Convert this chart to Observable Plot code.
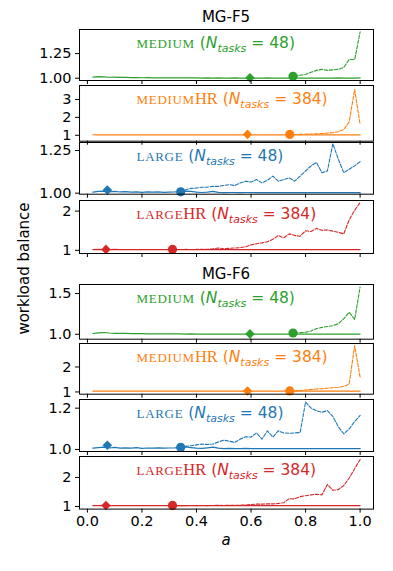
<!DOCTYPE html>
<html>
<head>
<meta charset="utf-8">
<script src="https://cdn.jsdelivr.net/npm/d3@7"></script>
<script src="https://cdn.jsdelivr.net/npm/@observablehq/plot@0.6"></script>
<style>
  body { margin: 0; background: #fff; }
  #fig { position: relative; width: 393px; height: 571px; overflow: hidden; font-family: "DejaVu Sans", sans-serif; color: #000; }
  .ttl { position: absolute; left: 79px; width: 294px; text-align: center; font-size: 15px; line-height: 15px; white-space: nowrap; }
  .ylab { position: absolute; width: 200px; height: 15px; font-size: 15px; line-height: 15px; text-align: center; transform: rotate(-90deg); white-space: nowrap; }
  .panel { position: absolute; left: 0; }
</style>
</head>
<body>
<div id="fig"></div>
<script>
// ---------- data ----------
const a = [0.02,0.04,0.06,0.08,0.10,0.12,0.14,0.16,0.18,0.20,0.22,0.24,0.26,0.28,0.30,0.32,0.34,0.36,0.38,0.40,0.42,0.44,0.46,0.48,0.50,0.52,0.54,0.56,0.58,0.60,0.62,0.64,0.66,0.68,0.70,0.72,0.74,0.76,0.78,0.80,0.82,0.84,0.86,0.88,0.90,0.92,0.94,0.96,0.98,1.00];
const xTicks = [0, 0.2, 0.4, 0.6, 0.8, 1.0];
const groups = ["MG-F5", "MG-F6"];

// MG-F5
const f5MediumSolid = [1.012,1.016,1.014,1.010,1.012,1.008,1.009,1.006,1.007,1.005,1.006,1.004,1.005,1.004,1.004,1.003,1.004,1.003,1.003,1.003,1.002,1.003,1.002,1.003,1.002,1.002,1.003,1.002,1.002,1.002,1.002,1.002,1.003,1.002,1.002,1.002,1.002,1.002,1.002,1.002,1.002,1.002,1.002,1.002,1.002,1.003,1.002,1.002,1.002,1.003];
const f5MediumDashed = [1.02,1.03,1.04,1.06,1.08,1.09,1.08,1.085,1.09,1.11,1.19,1.19,1.47];
const f5MediumHRSolid = [1.03,1.02,1.03,1.02,1.02,1.02,1.02,1.02,1.02,1.02,1.02,1.02,1.02,1.02,1.02,1.02,1.02,1.02,1.02,1.02,1.02,1.02,1.02,1.02,1.02,1.02,1.02,1.02,1.02,1.02,1.02,1.02,1.02,1.02,1.02,1.02,1.02,1.02,1.02,1.02,1.02,1.02,1.02,1.02,1.02,1.02,1.02,1.02,1.02,1.02];
const f5MediumHRDashed = [1.03,1.04,1.05,1.06,1.07,1.08,1.10,1.12,1.15,1.20,1.32,1.75,3.55,1.60];
const f5LargeSolid = [1.006,1.010,1.012,1.008,1.011,1.007,1.009,1.006,1.008,1.005,1.007,1.006,1.008,1.005,1.006,1.007,1.009,1.012,1.010,1.006,1.004,1.006,1.010,1.005,1.003,1.004,1.004,1.003,1.004,1.004,1.003,1.003,1.004,1.003,1.003,1.003,1.003,1.004,1.003,1.003,1.003,1.004,1.003,1.003,1.003,1.003,1.003,1.003,1.003,1.003];
const f5LargeDashed = [1.008,1.020,1.028,1.030,1.035,1.035,1.040,1.040,1.045,1.050,1.045,1.060,1.070,1.065,1.080,1.060,1.075,1.100,1.070,1.080,1.090,1.070,1.100,1.130,1.160,1.180,1.120,1.130,1.290,1.200,1.120,1.140,1.160,1.185];
const f5LargeHRSolid = [1.02,1.025,1.02,1.02,1.025,1.02,1.02,1.02,1.02,1.02,1.02,1.02,1.02,1.02,1.02,1.02,1.02,1.02,1.02,1.02,1.02,1.02,1.02,1.02,1.02,1.02,1.02,1.02,1.02,1.02,1.02,1.02,1.02,1.02,1.02,1.02,1.02,1.02,1.02,1.02,1.02,1.02,1.02,1.02,1.02,1.02,1.02,1.02,1.02,1.02];
const f5LargeHRDashed = [1.02,1.02,1.025,1.02,1.025,1.03,1.025,1.04,1.06,1.04,1.05,1.06,1.07,1.09,1.14,1.17,1.19,1.22,1.28,1.38,1.32,1.42,1.38,1.36,1.50,1.48,1.56,1.51,1.52,1.49,1.46,1.42,1.78,2.02,2.22];

// MG-F6
const f6MediumSolid = [1.010,1.018,1.022,1.016,1.012,1.011,1.010,1.009,1.008,1.007,1.006,1.006,1.005,1.005,1.004,1.004,1.004,1.003,1.004,1.003,1.003,1.003,1.003,1.003,1.003,1.003,1.003,1.003,1.003,1.003,1.003,1.003,1.003,1.003,1.003,1.003,1.003,1.003,1.003,1.003,1.003,1.003,1.003,1.003,1.003,1.003,1.003,1.003,1.003,1.003];
const f6MediumDashed = [1.016,1.02,1.025,1.04,1.07,1.085,1.095,1.105,1.13,1.19,1.27,1.18,1.58];
const f6MediumHRSolid = [1.03,1.03,1.03,1.03,1.03,1.03,1.03,1.03,1.03,1.03,1.03,1.03,1.03,1.03,1.03,1.03,1.03,1.03,1.03,1.03,1.03,1.03,1.03,1.03,1.03,1.03,1.03,1.03,1.03,1.03,1.03,1.03,1.03,1.03,1.03,1.03,1.03,1.03,1.03,1.03,1.03,1.03,1.03,1.03,1.03,1.03,1.03,1.03,1.03,1.03];
const f6MediumHRDashed = [1.03,1.04,1.06,1.08,1.10,1.12,1.13,1.15,1.17,1.19,1.22,1.32,2.85,1.60];
const f6LargeSolid = [1.006,1.009,1.011,1.007,1.010,1.006,1.008,1.006,1.009,1.005,1.007,1.006,1.008,1.006,1.007,1.008,1.010,1.012,1.009,1.006,1.005,1.008,1.011,1.006,1.004,1.005,1.004,1.004,1.005,1.004,1.004,1.004,1.004,1.004,1.004,1.004,1.004,1.004,1.004,1.004,1.004,1.004,1.004,1.004,1.004,1.004,1.004,1.004,1.004,1.004];
const f6LargeDashed = [1.010,1.015,1.018,1.022,1.026,1.024,1.026,1.036,1.045,1.040,1.034,1.050,1.061,1.060,1.080,1.050,1.090,1.060,1.090,1.080,1.078,1.080,1.082,1.230,1.200,1.188,1.180,1.188,1.160,1.110,1.076,1.100,1.135,1.165];
const f6LargeHRSolid = [1.03,1.03,1.035,1.03,1.03,1.03,1.03,1.03,1.03,1.03,1.03,1.03,1.03,1.03,1.03,1.03,1.03,1.03,1.03,1.03,1.03,1.03,1.03,1.03,1.03,1.03,1.03,1.03,1.03,1.03,1.03,1.03,1.03,1.03,1.03,1.03,1.03,1.03,1.03,1.03,1.03,1.03,1.03,1.03,1.03,1.03,1.03,1.03,1.03,1.03];
const f6LargeHRDashed = [1.03,1.03,1.03,1.035,1.03,1.035,1.03,1.035,1.04,1.035,1.04,1.04,1.045,1.05,1.07,1.08,1.08,1.09,1.09,1.10,1.13,1.27,1.26,1.34,1.37,1.40,1.42,1.40,1.76,1.56,1.58,1.72,1.98,2.30,2.62];

// marker points (diamond and circle)
const diamondA = [0.596, 0.587, 0.073, 0.068, 0.596, 0.587, 0.073, 0.068];
const diamondY = [1.004, 1.05, 1.018, 1.025, 1.005, 1.04, 1.02, 1.035];
const circleA  = [0.754, 0.742, 0.342, 0.312, 0.754, 0.742, 0.342, 0.312];
const circleY  = [1.02, 1.05, 1.008, 1.025, 1.016, 1.04, 1.01, 1.035];

const configNames = ["medium", "medium", "large", "large", "medium", "medium", "large", "large"];
const configHR    = [false, true, false, true, false, true, false, true];
const nTasks      = [48, 384, 48, 384, 48, 384, 48, 384];
const solids  = [f5MediumSolid, f5MediumHRSolid, f5LargeSolid, f5LargeHRSolid, f6MediumSolid, f6MediumHRSolid, f6LargeSolid, f6LargeHRSolid];
const dasheds = [f5MediumDashed, f5MediumHRDashed, f5LargeDashed, f5LargeHRDashed, f6MediumDashed, f6MediumHRDashed, f6LargeDashed, f6LargeHRDashed];
const yDomains = [[0.977,1.494],[0.67,3.78],[0.994,1.297],[0.92,2.27],[0.94,1.61],[0.91,2.94],[0.99,1.242],[0.91,2.72]];
const yTicks = [[1.00,1.25],[1,2,3],[1.00,1.25],[1,2],[1.0,1.5],[1,2],[1.0,1.2],[1,2]];
const yFormats = [".2f","d",".2f","d",".1f","d",".1f","d"];

// ---------- styling / layout ----------
const palette = {medium: "#2ca02c", mediumHR: "#ff7f0e", large: "#1f77b4", largeHR: "#d62728"};
const frames = [[28.5,79.5],[85.3,141],[142.3,194],[199.7,252.7],[284.3,339],[343.3,394],[399,451],[455.7,508.3]];
const titleTops = [10, 267.3];
const tickFont = 14.5;

const fig = document.getElementById("fig");
const NS = "http://www.w3.org/2000/svg";

groups.forEach((g, i) => {
  const d = document.createElement("div");
  d.className = "ttl";
  d.style.top = titleTops[i] + "px";
  d.textContent = g;
  fig.appendChild(d);
});

solids.forEach((solid, i) => {
  const [top, bottom] = frames[i];
  const last = i === solids.length - 1;
  const mt = 2, mb = last ? 24 : 6;
  const key = configNames[i] + (configHR[i] ? "HR" : "");
  const color = palette[key];
  const dashed = dasheds[i];
  const dashedA = a.slice(a.length - dashed.length);
  const solidData = a.map((x, k) => ({a: x, y: solid[k]}));
  const dashedData = dashedA.map((x, k) => ({a: x, y: dashed[k]}));
  const diamond = [{a: diamondA[i], y: diamondY[i]}];
  const circle = [{a: circleA[i], y: circleY[i]}];
  const placeholder = "LBL" + i;

  const chart = Plot.plot({
    width: 393,
    height: bottom - top + mt + mb,
    marginLeft: 79, marginRight: 20, marginTop: mt, marginBottom: mb,
    style: {background: "transparent", overflow: "visible", fontFamily: "DejaVu Sans, sans-serif", fontSize: tickFont + "px", color: "#000"},
    x: {domain: [-0.029, 1.049]},
    y: {domain: yDomains[i]},
    marks: [
      Plot.line(solidData, {x: "a", y: "y", stroke: color, strokeWidth: 1.2}),
      Plot.line(dashedData, {x: "a", y: "y", stroke: color, strokeWidth: 1.1, strokeDasharray: "3.5,1.6"}),
      Plot.dot(diamond, {x: "a", y: "y", symbol: "diamond2", r: 4.3, fill: color, stroke: "none"}),
      Plot.dot(circle, {x: "a", y: "y", symbol: "circle", r: 4.6, fill: color, stroke: "none"}),
      Plot.text([placeholder], {frameAnchor: "top-left", dx: 57, dy: 13.7, text: d => d, textAnchor: "start", lineAnchor: "middle", fill: color, fontSize: 15}),
      Plot.frame({stroke: "#000", strokeWidth: 1}),
      Plot.axisY({ticks: yTicks[i], tickFormat: d3.format(yFormats[i]), tickSize: 4, tickPadding: 4, label: null, fontSize: tickFont}),
      Plot.axisX({ticks: xTicks, tickSize: 4, tickPadding: 3, label: null, fontSize: tickFont, tickFormat: last ? d3.format(".1f") : () => ""})
    ]
  });

  // rich label: small-caps configuration name + math-style N_tasks
  const t = Array.from(chart.querySelectorAll("text")).find(e => e.textContent === placeholder);
  if (t) {
    t.textContent = "";
    const ts = (txt, attrs, style) => {
      const e = document.createElementNS(NS, "tspan");
      e.textContent = txt;
      for (const k in attrs) e.setAttribute(k, attrs[k]);
      if (style) e.setAttribute("style", style);
      t.appendChild(e);
      return e;
    };
    ts(configNames[i], {}, "font-family:'Liberation Serif',serif;font-variant:small-caps;font-size:18px;letter-spacing:0.7px");
    if (configHR[i]) ts("HR", {}, "font-family:'Liberation Serif',serif;font-size:16.5px");
    ts(" (", {}, "font-size:15.5px");
    ts("N", {}, "font-style:italic;font-size:15.5px");
    ts("tasks", {dy: 3.5}, "font-style:italic;font-size:11px");
    ts(" = " + nTasks[i] + ")", {dy: -3.5}, "font-size:15.5px");
  }

  const wrap = document.createElement("div");
  wrap.className = "panel";
  wrap.style.top = (top - mt) + "px";
  wrap.appendChild(chart);
  fig.appendChild(wrap);
});

// axis labels
const xl = document.createElement("div");
xl.className = "ttl";
xl.style.top = "533.3px";
xl.style.fontStyle = "italic";
xl.textContent = "a";
fig.appendChild(xl);

const yl = document.createElement("div");
yl.className = "ylab";
yl.style.left = (24.2 - 100) + "px";
yl.style.top = (268 - 7.5) + "px";
yl.textContent = "workload balance";
fig.appendChild(yl);
</script>
</body>
</html>
